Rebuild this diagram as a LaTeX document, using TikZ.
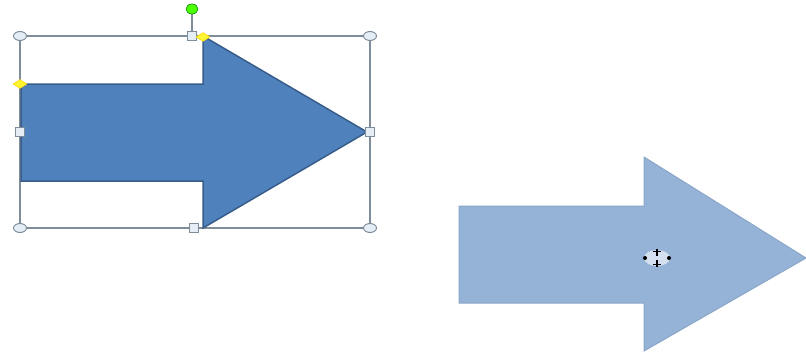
\documentclass[tikz,border=0pt]{standalone}
\usetikzlibrary{shapes.geometric}
\definecolor{darkfill}{HTML}{4F81BD}
\definecolor{darkedge}{HTML}{385D8A}
\definecolor{lightfill}{HTML}{95B3D7}
\definecolor{lightedge}{HTML}{8AA6C8}
\definecolor{framecol}{HTML}{7F8C99}
\definecolor{handlefill}{HTML}{E6EEF5}
\tikzset{
  cornerhandle/.style={ellipse,draw=framecol,fill=handlefill,line width=1pt,minimum width=13pt,minimum height=9pt,inner sep=0pt},
  sidehandle/.style={rectangle,draw=framecol,fill=handlefill,line width=1pt,minimum width=9pt,minimum height=9pt,inner sep=0pt},
  adjhandle/.style={diamond,draw={yellow!70!orange},fill={yellow!80!white},line width=0.5pt,minimum width=14pt,minimum height=9pt,inner sep=0pt},
  rothandle/.style={ellipse,draw={green!50!black},fill={green!70!yellow},line width=0.6pt,minimum width=12pt,minimum height=10pt,inner sep=0pt},
  frameline/.style={draw=framecol,line width=1.3pt},
}
\begin{document}
\begin{tikzpicture}[x=1pt,y=-1pt]
\useasboundingbox (0,0) rectangle (806,357);
% selection frame
\coordinate (f1) at (20,36);
\coordinate (f2) at (370,36);
\coordinate (f3) at (370,228);
\coordinate (f4) at (20,228);
\draw[frameline] (f1) rectangle (f3);
% selected dark arrow
\draw[fill=darkfill,draw=darkedge,line width=1.5pt,line join=miter]
  (21,84) -- (203,84) -- (203,36) -- (367,132) -- (203,228) -- (203,181) -- (21,181) -- cycle;
% rotation handle stem
\coordinate (rb) at (192,36);
\node[rothandle] (rot) at (192,9) {};
\draw[frameline] (rot) -- (rb);
% handles
\node[cornerhandle] (hTL) at (20,36) {};
\node[cornerhandle] (hTR) at (370,36) {};
\node[cornerhandle] (hBL) at (20,228) {};
\node[cornerhandle] (hBR) at (370,228) {};
\node[sidehandle] (hT) at (192,36) {};
\node[sidehandle] (hB) at (194,228) {};
\node[sidehandle] (hL) at (20,132) {};
\node[sidehandle] (hR) at (370,132) {};
\node[adjhandle] (aL) at (20,84) {};
\node[adjhandle] (aT) at (203,37) {};
% light arrow
\draw[fill=lightfill,draw=lightedge,line width=1pt,line join=miter]
  (459,206) -- (644,206) -- (644,157) -- (806,258) -- (644,351) -- (644,303) -- (459,303) -- cycle;
% move cursor
\fill[white,opacity=0.6] (657,258) ellipse (13pt and 8pt);
\fill[black] (645,258) circle (2pt);
\fill[black] (669,258) circle (2pt);
\draw[black,line width=1.3pt] (657,249) -- (657,256) (653,251.5) -- (661,251.5);
\draw[black,line width=1.3pt] (657,260) -- (657,267) (653,264.5) -- (661,264.5);
\end{tikzpicture}
\end{document}
